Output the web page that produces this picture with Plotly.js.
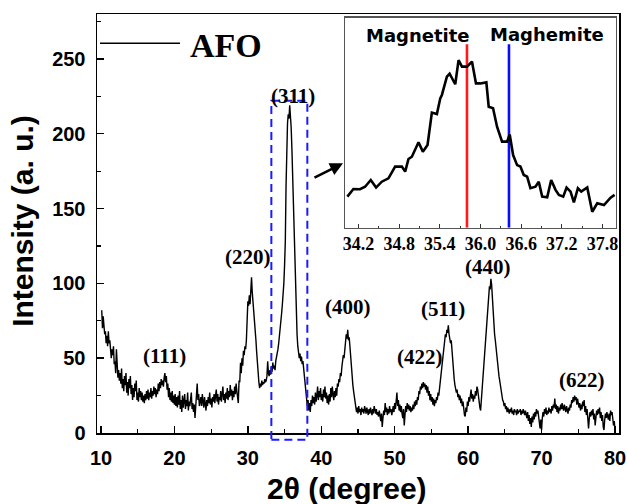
<!DOCTYPE html>
<html>
<head>
<meta charset="utf-8">
<script src="https://cdn.plot.ly/plotly-3.0.1.min.js"></script>
<style>html,body{margin:0;padding:0;background:#fff;}#chart{width:627px;height:504px;}</style>
</head>
<body>
<div id="chart"></div>
<script>
// ---- main XRD pattern (2theta, intensity) ----
const twoTheta = [
10.1,10.2,10.3,10.4,10.5,10.6,10.7,10.8,10.9,11.0,
11.1,11.2,11.3,11.4,11.5,11.6,11.7,11.8,11.9,12.0,
12.1,12.2,12.3,12.4,12.5,12.6,12.7,12.8,12.9,13.0,
13.1,13.2,13.3,13.4,13.5,13.6,13.7,13.8,13.9,14.0,
14.1,14.2,14.3,14.4,14.5,14.6,14.7,14.8,14.9,15.0,
15.1,15.2,15.3,15.4,15.5,15.6,15.7,15.8,15.9,16.0,
16.1,16.2,16.3,16.4,16.5,16.6,16.7,16.8,16.9,17.0,
17.1,17.2,17.3,17.4,17.5,17.6,17.7,17.8,17.9,18.0,
18.1,18.2,18.3,18.4,18.5,18.6,18.7,18.8,18.9,19.0,
19.1,19.2,19.3,19.4,19.5,19.6,19.7,19.8,19.9,20.0,
20.1,20.2,20.3,20.4,20.5,20.6,20.7,20.8,20.9,21.0,
21.1,21.2,21.3,21.4,21.5,21.6,21.7,21.8,21.9,22.0,
22.1,22.2,22.3,22.4,22.5,22.6,22.7,22.8,22.9,23.0,
23.1,23.2,23.3,23.4,23.5,23.6,23.7,23.8,23.9,24.0,
24.1,24.2,24.3,24.4,24.5,24.6,24.7,24.8,24.9,25.0,
25.1,25.2,25.3,25.4,25.5,25.6,25.7,25.8,25.9,26.0,
26.1,26.2,26.3,26.4,26.5,26.6,26.7,26.8,26.9,27.0,
27.1,27.2,27.3,27.4,27.5,27.6,27.7,27.8,27.9,28.0,
28.1,28.2,28.3,28.4,28.5,28.6,28.7,28.8,28.9,29.0,
29.1,29.2,29.3,29.4,29.5,29.6,29.7,29.8,29.9,30.0,
30.1,30.2,30.3,30.4,30.5,30.6,30.7,30.8,30.9,31.0,
31.1,31.2,31.3,31.4,31.5,31.6,31.7,31.8,31.9,32.0,
32.1,32.2,32.3,32.4,32.5,32.6,32.7,32.8,32.9,33.0,
33.1,33.2,33.3,33.4,33.5,33.6,33.7,33.8,33.9,34.0,
34.1,34.2,34.3,34.4,34.5,34.6,34.7,34.8,34.9,35.0,
35.1,35.2,35.3,35.4,35.5,35.6,35.7,35.8,35.9,36.0,
36.1,36.2,36.3,36.4,36.5,36.6,36.7,36.8,36.9,37.0,
37.1,37.2,37.3,37.4,37.5,37.6,37.7,37.8,37.9,38.0,
38.1,38.2,38.3,38.4,38.5,38.6,38.7,38.8,38.9,39.0,
39.1,39.2,39.3,39.4,39.5,39.6,39.7,39.8,39.9,40.0,
40.1,40.2,40.3,40.4,40.5,40.6,40.7,40.8,40.9,41.0,
41.1,41.2,41.3,41.4,41.5,41.6,41.7,41.8,41.9,42.0,
42.1,42.2,42.3,42.4,42.5,42.6,42.7,42.8,42.9,43.0,
43.1,43.2,43.3,43.4,43.5,43.6,43.7,43.8,43.9,44.0,
44.1,44.2,44.3,44.4,44.5,44.6,44.7,44.8,44.9,45.0,
45.1,45.2,45.3,45.4,45.5,45.6,45.7,45.8,45.9,46.0,
46.1,46.2,46.3,46.4,46.5,46.6,46.7,46.8,46.9,47.0,
47.1,47.2,47.3,47.4,47.5,47.6,47.7,47.8,47.9,48.0,
48.1,48.2,48.3,48.4,48.5,48.6,48.7,48.8,48.9,49.0,
49.1,49.2,49.3,49.4,49.5,49.6,49.7,49.8,49.9,50.0,
50.1,50.2,50.3,50.4,50.5,50.6,50.7,50.8,50.9,51.0,
51.1,51.2,51.3,51.4,51.5,51.6,51.7,51.8,51.9,52.0,
52.1,52.2,52.3,52.4,52.5,52.6,52.7,52.8,52.9,53.0,
53.1,53.2,53.3,53.4,53.5,53.6,53.7,53.8,53.9,54.0,
54.1,54.2,54.3,54.4,54.5,54.6,54.7,54.8,54.9,55.0,
55.1,55.2,55.3,55.4,55.5,55.6,55.7,55.8,55.9,56.0,
56.1,56.2,56.3,56.4,56.5,56.6,56.7,56.8,56.9,57.0,
57.1,57.2,57.3,57.4,57.5,57.6,57.7,57.8,57.9,58.0,
58.1,58.2,58.3,58.4,58.5,58.6,58.7,58.8,58.9,59.0,
59.1,59.2,59.3,59.4,59.5,59.6,59.7,59.8,59.9,60.0,
60.1,60.2,60.3,60.4,60.5,60.6,60.7,60.8,60.9,61.0,
61.1,61.2,61.3,61.4,61.5,61.6,61.7,61.8,61.9,62.0,
62.1,62.2,62.3,62.4,62.5,62.6,62.7,62.8,62.9,63.0,
63.1,63.2,63.3,63.4,63.5,63.6,63.7,63.8,63.9,64.0,
64.1,64.2,64.3,64.4,64.5,64.6,64.7,64.8,64.9,65.0,
65.1,65.2,65.3,65.4,65.5,65.6,65.7,65.8,65.9,66.0,
66.1,66.2,66.3,66.4,66.5,66.6,66.7,66.8,66.9,67.0,
67.1,67.2,67.3,67.4,67.5,67.6,67.7,67.8,67.9,68.0,
68.1,68.2,68.3,68.4,68.5,68.6,68.7,68.8,68.9,69.0,
69.1,69.2,69.3,69.4,69.5,69.6,69.7,69.8,69.9,70.0,
70.1,70.2,70.3,70.4,70.5,70.6,70.7,70.8,70.9,71.0,
71.1,71.2,71.3,71.4,71.5,71.6,71.7,71.8,71.9,72.0,
72.1,72.2,72.3,72.4,72.5,72.6,72.7,72.8,72.9,73.0,
73.1,73.2,73.3,73.4,73.5,73.6,73.7,73.8,73.9,74.0,
74.1,74.2,74.3,74.4,74.5,74.6,74.7,74.8,74.9,75.0,
75.1,75.2,75.3,75.4,75.5,75.6,75.7,75.8,75.9,76.0,
76.1,76.2,76.3,76.4,76.5,76.6,76.7,76.8,76.9,77.0,
77.1,77.2,77.3,77.4,77.5,77.6,77.7,77.8,77.9,78.0,
78.1,78.2,78.3,78.4,78.5,78.6,78.7,78.8,78.9,79.0,
79.1,79.2,79.3,79.4,79.5,79.6,79.7,79.8,79.9,80.0
];
const intensity = [
82,70,78,74,66,68,60,65,58,68,
60,62,55,50,56,52,58,46,48,40,
56,44,37,42,35,40,33,43,30,36,
28,38,32,40,27,34,25,36,30,38,
26,32,22,30,24,33,28,35,22,27,
21,30,24,28,22,27,21,25,20,26,
22,28,23,29,22,27,24,30,23,28,
25,31,26,30,24,29,26,33,28,34,
30,36,32,35,31,37,40,34,38,29,
33,24,30,22,27,21,28,20,25,19,
26,18,24,17,25,19,28,16,22,14,
25,17,23,26,16,22,18,27,15,21,
18,25,27,16,20,14,19,10,18,25,
33,22,26,18,21,24,18,26,21,17,
24,19,15,22,18,24,20,27,19,23,
17,24,21,26,20,25,29,21,26,19,
24,22,28,21,27,31,22,26,20,27,
23,30,22,28,24,32,25,29,22,28,
24,31,26,33,28,22,20,35,34,47,
40,50,45,55,52,58,56,62,75,88,
85,92,86,96,104,94,88,84,76,72,
62,54,44,35,34,30,33,31,35,32,
34,33,36,34,35,38,48,40,38,42,
39,44,41,47,43,45,42,48,50,53,
56,60,64,68,74,80,86,92,100,112,
128,165,198,207,213,210,219,212,204,190,
170,150,128,114,88,74,66,58,55,50,
53,48,51,46,48,42,36,32,28,24,
18,22,15,20,14,22,18,25,20,24,
19,27,21,25,31,22,28,24,30,22,
26,21,29,24,31,23,27,20,25,19,
26,21,30,24,31,26,22,28,24,30,
25,33,31,36,34,40,38,44,47,52,
50,58,62,66,63,69,62,64,58,50,
42,36,32,28,24,20,16,14,17,13,
18,14,16,12,17,14,16,13,18,15,
13,17,14,12,16,13,17,14,12,16,
13,18,15,13,16,12,14,11,15,12,
8,13,4,10,15,12,20,14,17,12,
16,13,18,14,16,12,15,18,14,20,
16,24,27,18,22,15,19,14,18,13,
10,16,5,12,18,14,20,16,19,15,
18,14,17,15,19,16,21,18,22,19,
24,22,28,26,31,29,33,30,34,31,
33,29,32,27,31,25,28,22,26,21,
24,19,23,18,22,20,24,22,27,25,
30,33,38,42,47,52,58,62,66,64,
69,67,72,66,64,60,62,54,47,41,
36,32,30,27,29,24,26,22,25,20,
23,18,21,15,12,11,17,14,21,18,
24,21,27,29,23,26,21,25,23,28,
25,31,29,24,20,17,15,22,32,40,
47,52,60,68,75,80,86,92,98,96,
103,99,90,78,72,66,62,56,50,46,
41,38,35,31,28,25,22,21,18,20,
16,18,14,17,15,13,16,14,17,13,
15,12,16,14,15,12,16,13,15,14,
16,12,15,13,16,14,12,15,13,10,
14,8,12,6,10,4,11,7,13,9,
14,11,16,13,15,10,5,3,9,2,
10,14,11,16,13,17,12,15,13,17,
14,16,13,18,15,19,17,23,16,19,
14,18,13,17,15,19,16,20,17,15,
19,16,14,18,15,13,17,15,19,17,
22,20,24,21,25,22,24,19,23,21,
17,20,15,19,16,21,18,22,14,18,
12,16,8,3,10,14,11,15,12,16,
9,13,5,11,15,12,16,13,17,10,
14,8,12,4,2,9,13,10,14,11,
9,13,8,15,12,14,9,5,8,2
];

// ---- peak (hkl) labels ----
const peakLabels = ['(111)','(220)','(311)','(400)','(422)','(511)','(440)','(622)'];
const peakLabelX = [18.7, 30.06, 36.2, 43.7, 53.5, 56.6, 62.75, 75.45];
const peakLabelY = [51.5, 117.7, 225.5, 84, 50.7, 82.9, 111, 35.5];

// ---- inset: zoom on the (311) reflection ----
const insetTheta = [34.035,34.124,34.222,34.296,34.380,34.459,34.543,34.641,34.740,34.839,34.888,34.937,34.987,35.085,35.149,35.218,35.282,35.356,35.406,35.430,35.504,35.544,35.627,35.676,35.726,35.800,35.874,35.933,35.997,36.086,36.121,36.185,36.244,36.318,36.392,36.431,36.481,36.540,36.589,36.638,36.688,36.737,36.811,36.860,36.910,36.984,37.043,37.107,37.157,37.221,37.270,37.329,37.378,37.437,37.487,37.575,37.649,37.723,37.822,37.920,37.979];
const insetCounts = [14.8,18.4,18.3,19.5,22.7,19.1,21.9,23.5,29.1,29.1,26.7,32.7,33.8,40.7,36.2,39.4,54.8,54.1,61.6,63.2,71.9,73.3,68.3,79.8,76.7,76.7,79.1,68.7,68.7,69.2,57.6,56.9,48.1,41.0,41.0,44.4,34.6,29.8,29.1,25.1,24.3,18.8,19.5,21.9,14.8,14.5,22.7,18.0,15.6,14.8,19.1,17.2,12.0,18.8,17.2,19.2,7.6,11.6,10.8,14.3,15.6];
const refPhases = ['Magnetite','Maghemite'];
const refPositions = [35.8, 36.42];
const refColors = ['#ff1a1a','#0a0aff'];
const refTop = 87.3;
const refLabelX = [35.07, 36.98];
const refLabelY = [91.4, 91.9];
const insetTickVals = [34.2, 34.8, 35.4, 36.0, 36.6, 37.2, 37.8];

// ---- axes ranges ----
const xRange = [9.455, 80.545];
const yRange = [0, 280];
const xTicks = [10,20,30,40,50,60,70,80];
const yTicks = [0,50,100,150,200,250];
const insetXRange = [34.0, 38.0];
const insetYRange = [0, 100];

// highlighted region of the main pattern (dashed box)
const boxTheta = [33.2, 38.1];
const boxIntensity = [-4.5, 222];

function yPaper(v){ return (v - yRange[0])/(yRange[1]-yRange[0]); }

const sans = 'Liberation Sans, Arial, sans-serif';
const serif = 'Liberation Serif, Times New Roman, serif';
const dejavu = 'DejaVu Sans, Verdana, sans-serif';

const traces = [
  {x: twoTheta, y: intensity, type:'scatter', mode:'lines', name:'AFO',
   line:{color:'#000', width:1.4}, xaxis:'x', yaxis:'y', showlegend:false},
  {x: insetTheta, y: insetCounts, type:'scatter', mode:'lines',
   line:{color:'#000', width:2.6}, xaxis:'x2', yaxis:'y2', showlegend:false}
];

const annotations = [];
peakLabels.forEach((t,i)=>{
  annotations.push({x: peakLabelX[i], y: peakLabelY[i], xref:'x', yref:'y', text:t, showarrow:false,
    font:{family:serif, size:21, color:'#000', weight:700}, xanchor:'center', yanchor:'middle'});
});
refPhases.forEach((t,i)=>{
  annotations.push({x: refLabelX[i], y: refLabelY[i], xref:'x2', yref:'y2', xanchor:'center', yanchor:'middle',
    text:t, showarrow:false, font:{family:dejavu, size:18, color:'#000', weight:700}});
});
// legend text
annotations.push({x: 0.248, y: 0.9237, xref:'paper', yref:'paper', text:'AFO', showarrow:false,
  font:{family:serif, size:34, color:'#000', weight:700}, xanchor:'center', yanchor:'middle'});
// axis titles
annotations.push({x: -0.142, y: 0.506, xref:'paper', yref:'paper', text:'Intensity (a. u.)', textangle:-90, showarrow:false,
  font:{family:sans, size:30, color:'#000', weight:700}, xanchor:'center', yanchor:'middle'});
annotations.push({x: 0.478, y: -0.133, xref:'paper', yref:'paper', text:'2θ (degree)', showarrow:false,
  font:{family:sans, size:30, color:'#000', weight:700}, xanchor:'center', yanchor:'middle'});
// arrow from the dashed box to the inset
annotations.push({x: 42.96, y: 180.2, ax: 38.87, ay: 170.2, xref:'x', yref:'y', axref:'x', ayref:'y',
  text:'', showarrow:true, arrowhead:2, arrowsize:1, arrowwidth:2.6, arrowcolor:'#000', standoff:0});

const shapes = [
  {type:'rect', xref:'x', yref:'paper', x0: boxTheta[0], x1: boxTheta[1], y0: yPaper(boxIntensity[0]), y1: yPaper(boxIntensity[1]),
   line:{color:'#1a1aff', width:2, dash:'8px,5px'}, fillcolor:'rgba(0,0,0,0)'},
  {type:'line', xref:'paper', yref:'paper', x0:0.00575, x1:0.159, y0:0.930, y1:0.930, line:{color:'#000', width:1.5}}
];
refPositions.forEach((p,i)=>{
  shapes.push({type:'line', xref:'x2', yref:'y2', x0:p, x1:p, y0:insetYRange[0], y1:refTop,
    line:{color:refColors[i], width:2.6}, layer:'below'});
});

const layout = {
  width:627, height:504,
  margin:{l:97, r:8, t:14, b:71},
  paper_bgcolor:'#fff', plot_bgcolor:'#fff',
  showlegend:false,
  xaxis:{domain:[0,1], range:xRange, tickvals:xTicks, ticks:'inside', ticklen:7, tickwidth:1.5, tickcolor:'#000',
    showline:true, linecolor:'#000', linewidth:1.5, mirror:true, showgrid:false, zeroline:false,
    minor:{dtick:5, tick0:0, ticks:'inside', ticklen:4, tickwidth:1.2, tickcolor:'#000', showgrid:false},
    tickfont:{family:sans, size:20, color:'#000', weight:700}, ticklabelstandoff:6},
  yaxis:{domain:[0,1], range:yRange, tickvals:yTicks, ticks:'inside', ticklen:7, tickwidth:1.5, tickcolor:'#000',
    showline:true, linecolor:'#000', linewidth:1.5, mirror:true, showgrid:false, zeroline:false,
    minor:{dtick:25, tick0:0, ticks:'inside', ticklen:4, tickwidth:1.2, tickcolor:'#000', showgrid:false},
    tickfont:{family:sans, size:20, color:'#000', weight:700}, ticklabelstandoff:6},
  xaxis2:{domain:[0.4751,0.9943], anchor:'y2', range:insetXRange, tickmode:'array', tickvals:insetTickVals, ticktext:insetTickVals.map(v=>v.toFixed(1)),
    ticks:'inside', ticklen:4, tickwidth:1.2, tickcolor:'#333',
    showline:true, linecolor:'#555', linewidth:1.2, mirror:true, showgrid:false, zeroline:false,
    minor:{dtick:0.3, tick0:34.2, ticks:'inside', ticklen:2, tickwidth:1, tickcolor:'#333', showgrid:false},
    tickfont:{family:serif, size:18, color:'#000', weight:700}, ticklabelstandoff:0},
  yaxis2:{domain:[0.49,0.9912], anchor:'x2', range:insetYRange, showticklabels:false, ticks:'',
    showline:true, linecolor:'#555', linewidth:1.2, mirror:true, showgrid:false, zeroline:false},
  annotations: annotations,
  shapes: shapes
};

Plotly.newPlot('chart', traces, layout, {staticPlot:true, displayModeBar:false});
</script>
</body>
</html>
